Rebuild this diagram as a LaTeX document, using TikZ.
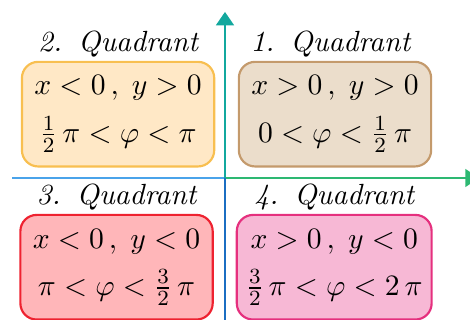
\documentclass[tikz,border=0pt]{standalone}
\usepackage{amsmath, amssymb}
\usepackage{xcolor}
\usetikzlibrary{positioning, arrows.meta}
\definecolor{quad-one-fill}{HTML}{EBDDCB}
\definecolor{quad-one-line}{HTML}{C49A6C}
\definecolor{quad-two-fill}{HTML}{FFE8C6}
\definecolor{quad-two-line}{HTML}{F8BF50}
\definecolor{quad-three-fill}{HTML}{FFB6B9}
\definecolor{quad-three-line}{HTML}{EE2230}
\definecolor{quad-four-fill}{HTML}{F7B8D5}
\definecolor{quad-four-line}{HTML}{E5307E}
\definecolor{axis-left}{HTML}{4AA3EA}
\definecolor{axis-right}{HTML}{2DB872}
\definecolor{axis-up}{HTML}{13A89E}
\definecolor{axis-down}{HTML}{1B6EC2}

\begin{document}
\begin{tikzpicture}[
    quadbox/.style={draw, line width=0.8pt, rounded corners=6pt,
      minimum width=2.5cm, minimum height=1.36cm, align=center,
      font=\fontsize{11pt}{13.5pt}\selectfont},
    quadtitle/.style={inner sep=1pt, font=\fontsize{10.8pt}{13pt}\selectfont\itshape},
    axis/.style={line width=1.1pt},
    tip/.style={-{Triangle[length=5pt, width=6.5pt]}}]
    \useasboundingbox (-2.925,-1.846) rectangle (3.185,2.314);
    % axes
    \coordinate (o) at (0,0);
    \coordinate (x-neg) at (-2.77,0);
    \coordinate (x-pos) at (3.3,0);
    \coordinate (y-pos) at (0,2.16);
    \coordinate (y-neg) at (0,-1.9);
    \draw[axis, color=axis-left] (o) -- (x-neg);
    \draw[axis, color=axis-right, tip] (o) -- (x-pos);
    \draw[axis, color=axis-down] (o) -- (y-neg);
    \draw[axis, color=axis-up, tip] (o) -- (y-pos);
    % quadrants
    \node[quadbox, draw=quad-one-line, fill=quad-one-fill] (q1) at (1.43,0.83)
      {$x>0\,,\;y>0$\\[4pt] $0<\varphi<\frac{1}{2}\,\pi$};
    \node[quadtitle, above=0pt of q1, xshift=-0.06cm] (t1) {1.\hspace{0.55em}Quadrant};
    \node[quadbox, draw=quad-two-line, fill=quad-two-fill] (q2) at (-1.39,0.83)
      {$x<0\,,\;y>0$\\[4pt] $\frac{1}{2}\,\pi<\varphi<\pi$};
    \node[quadtitle, above=0pt of q2] (t2) {2.\hspace{0.55em}Quadrant};
    \node[quadbox, draw=quad-three-line, fill=quad-three-fill] (q3) at (-1.41,-1.16)
      {$x<0\,,\;y<0$\\[4pt] $\pi<\varphi<\frac{3}{2}\,\pi$};
    \node[quadtitle, above=0pt of q3] (t3) {3.\hspace{0.55em}Quadrant};
    \node[quadbox, draw=quad-four-line, fill=quad-four-fill] (q4) at (1.42,-1.16)
      {$x>0\,,\;y<0$\\[4pt] $\frac{3}{2}\,\pi<\varphi<2\,\pi$};
    \node[quadtitle, above=0pt of q4] (t4) {4.\hspace{0.55em}Quadrant};
\end{tikzpicture}
\end{document}
